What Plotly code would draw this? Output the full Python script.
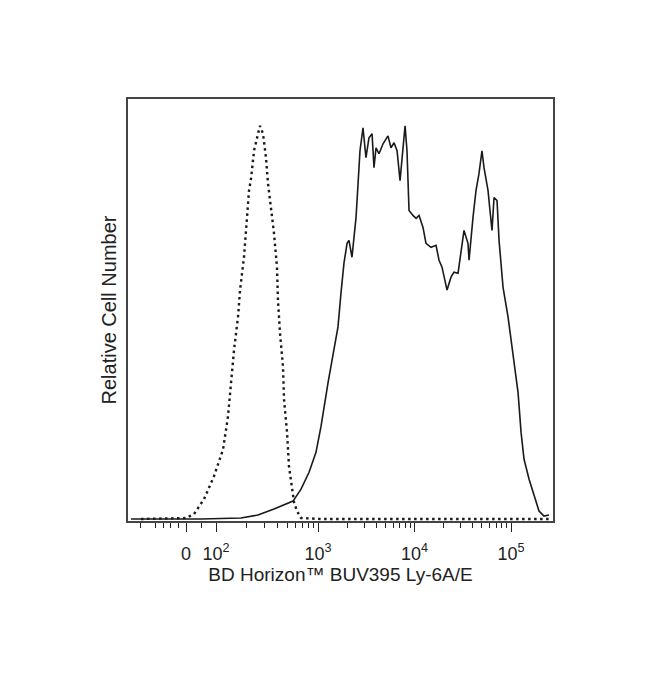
import numpy as np
import plotly.graph_objects as go

# Display scale (biexponential-like, in decades) for the fluorescence axis
tick_labels = ["0", "10<sup>2</sup>", "10<sup>3</sup>", "10<sup>4</sup>", "10<sup>5</sup>"]
tick_pos = [1.632, 1.943, 3.0, 4.0, 5.0]

# Isotype control (dotted)
ctrl_x = [1.166, 1.632, 1.715, 1.819, 1.922, 2.016, 2.067, 2.098, 2.130, 2.171, 2.192,
          2.233, 2.264, 2.285, 2.306, 2.337, 2.378, 2.399, 2.430, 2.461, 2.482, 2.513,
          2.544, 2.575, 2.585, 2.606, 2.637, 2.648, 2.679, 2.699, 2.741, 2.751, 2.782,
          2.824, 3.03, 4.0, 5.0, 5.42]
ctrl_y = [0, 1, 5, 20, 43, 70, 103, 137, 170, 203, 230,
          263, 300, 330, 342, 370, 387, 395, 387, 363, 337, 313,
          287, 253, 220, 187, 153, 120, 87, 53, 27, 17, 8,
          1, 0, 0, 0, 0]

# Ly-6A/E stained sample (solid)
samp_x = [1.062, 1.788, 2.202, 2.378, 2.544, 2.741, 2.824, 2.907, 2.979, 3.031, 3.104,
          3.166, 3.207, 3.238, 3.269, 3.301, 3.321, 3.352, 3.373, 3.394, 3.415, 3.435,
          3.466, 3.497, 3.528, 3.560, 3.580, 3.601, 3.632, 3.674, 3.725, 3.756, 3.788,
          3.819, 3.850, 3.881, 3.902, 3.922, 3.943, 3.984, 4.016, 4.047, 4.088, 4.119,
          4.171, 4.223, 4.254, 4.285, 4.306, 4.337, 4.378, 4.409, 4.451, 4.482, 4.513,
          4.554, 4.565, 4.606, 4.637, 4.668, 4.699, 4.720, 4.762, 4.782, 4.803, 4.824,
          4.855, 4.876, 4.917, 4.969, 5.021, 5.073, 5.104, 5.135, 5.187, 5.238, 5.290,
          5.342, 5.394]
samp_y = [0, 0, 1, 4, 10, 18, 30, 47, 67, 93, 137,
          173, 193, 227, 257, 277, 280, 263, 280, 303, 337, 370,
          393, 363, 383, 387, 353, 373, 367, 377, 385, 373, 378,
          370, 340, 370, 395, 370, 310, 305, 302, 305, 293, 277,
          273, 275, 260, 253, 243, 230, 243, 248, 247, 270, 290,
          277, 260, 303, 330, 347, 370, 353, 330, 310, 290, 323,
          320, 280, 233, 203, 167, 127, 87, 60, 40, 23, 8,
          3, 4]


def disp(v):
    """Map an intensity value to the display (decade) coordinate."""
    if v >= 100:
        return float(np.interp(np.log10(v), [2, 3, 4, 5], [1.943, 3.0, 4.0, 5.0]))
    return 1.632 + (v / 100.0) * (1.943 - 1.632)


minor_vals = [disp(v) for v in (-150, -100, -75, -50, -25, 50)]
for k in (2, 3, 4):
    for m in range(2, 10):
        minor_vals.append(disp(m * 10 ** k))
minor_vals.append(disp(2e5))

fig = go.Figure()
fig.add_trace(go.Scatter(x=ctrl_x, y=ctrl_y, mode="lines",
                         line=dict(color="#1a1a1a", width=2.4, dash="2.5px,3.5px"),
                         showlegend=False, hoverinfo="skip"))
fig.add_trace(go.Scatter(x=samp_x, y=samp_y, mode="lines",
                         line=dict(color="#1a1a1a", width=1.6),
                         showlegend=False, hoverinfo="skip"))

font = "Liberation Sans, Arial, sans-serif"
fig.update_layout(
    width=650, height=685,
    margin=dict(l=120, r=105, t=91, b=172),
    paper_bgcolor="white", plot_bgcolor="white",
    font=dict(family=font, size=18, color="#222"),
    xaxis=dict(
        range=[1.031, 5.435], showgrid=False, zeroline=False,
        showline=True, mirror=True, linecolor="#444", linewidth=2,
        tickmode="array", tickvals=tick_pos, ticktext=tick_labels,
        ticks="outside", ticklen=9, tickwidth=1.2, tickcolor="#222",
        ticklabelstandoff=6,
        tickfont=dict(family=font, size=18, color="#222"),
        minor=dict(tickmode="array", tickvals=minor_vals, ticks="outside",
                   ticklen=5, tickwidth=1, tickcolor="#222", showgrid=False),
        title=dict(text="BD Horizon™ BUV395 Ly-6A/E",
                   font=dict(family=font, size=19, color="#222"), standoff=0),
    ),
    yaxis=dict(
        range=[-2, 422], showgrid=False, zeroline=False,
        showline=True, mirror=True, linecolor="#444", linewidth=2,
        showticklabels=False, ticks="",
        title=dict(text="Relative Cell Number",
                   font=dict(family=font, size=20, color="#222"), standoff=4),
    ),
)

fig.write_html("out.html")
